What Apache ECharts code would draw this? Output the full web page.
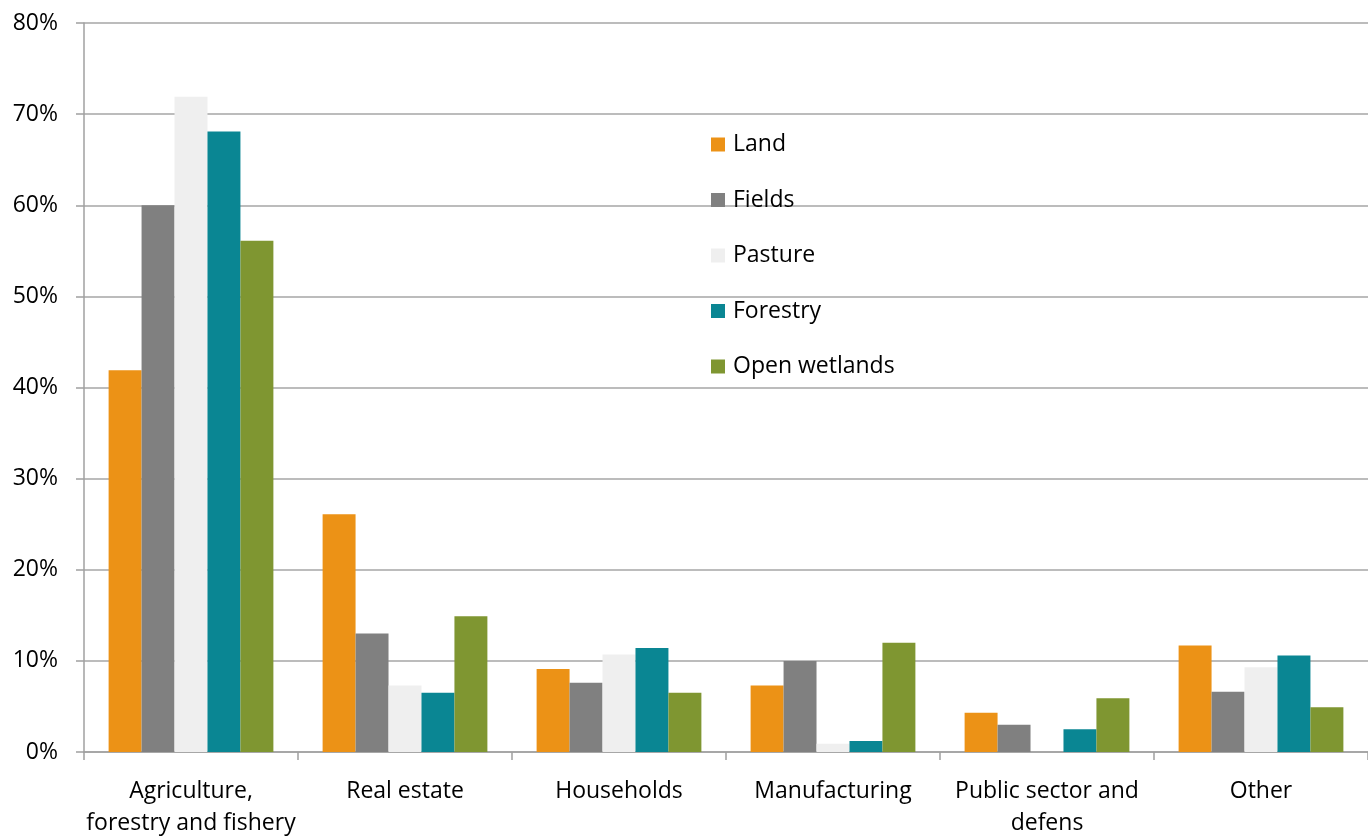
<!DOCTYPE html>
<html>
<head>
<meta charset="utf-8">
<script src="https://cdn.jsdelivr.net/npm/echarts@6/dist/echarts.min.js"></script>
<style>
html,body{margin:0;padding:0;background:#fff;}
#chart{width:1368px;height:839px;}
</style>
</head>
<body>
<div id="chart"></div>
<script>
var categories = ['Agriculture,\nforestry and fishery','Real estate','Households','Manufacturing','Public sector and\ndefens','Other'];
var seriesNames = ['Land','Fields','Pasture','Forestry','Open wetlands'];
var land     = [41.9, 26.1, 9.1, 7.3, 4.3, 11.7];
var fields   = [60.0, 13.0, 7.6, 10.0, 3.0, 6.6];
var pasture  = [71.9, 7.3, 10.7, 0.9, 0, 9.3];
var forestry = [68.1, 6.5, 11.4, 1.2, 2.5, 10.6];
var wetlands = [56.1, 14.9, 6.5, 12.0, 5.9, 4.9];
var yTicks   = [0, 10, 20, 30, 40, 50, 60, 70, 80];

var colors = ['#ec9216','#808080','#efefef','#0a8693','#7f9631'];
var values = [land, fields, pasture, forestry, wetlands];

var series = [];
for (var i = 0; i < seriesNames.length; i++) {
    series.push({
        name: seriesNames[i],
        type: 'bar',
        barGap: '0%',
        barCategoryGap: '23%',
        data: values[i]
    });
}

var option = {
    animation: false,
    color: colors,
    textStyle: {
        fontFamily: 'Open Sans, Noto Sans, sans-serif'
    },
    grid: {
        left: 84,
        top: 23,
        width: 1292,
        height: 737,
        containLabel: false
    },
    legend: {
        orient: 'vertical',
        left: 706,
        top: 128,
        itemWidth: 14,
        itemHeight: 14,
        itemGap: 32.5,
        icon: 'rect',
        textStyle: {
            color: '#000',
            fontSize: 23,
            padding: [0, 0, 0, 3]
        },
        data: seriesNames
    },
    xAxis: {
        type: 'category',
        data: categories,
        axisLine: {
            lineStyle: { color: '#a0a0a0', width: 1.5 }
        },
        axisTick: {
            show: true,
            length: 8,
            lineStyle: { color: '#a0a0a0', width: 1.5 }
        },
        axisLabel: {
            color: '#000',
            fontSize: 23,
            margin: 23,
            lineHeight: 32,
            interval: 0
        }
    },
    yAxis: {
        type: 'value',
        min: yTicks[0],
        max: yTicks[yTicks.length - 1],
        interval: 10,
        axisLine: {
            show: true,
            lineStyle: { color: '#a0a0a0', width: 1.5 }
        },
        axisTick: {
            show: true,
            inside: false,
            length: 8,
            lineStyle: { color: '#a0a0a0', width: 1.5 }
        },
        axisLabel: {
            color: '#000',
            fontSize: 23,
            margin: 26,
            formatter: '{value}%'
        },
        splitLine: {
            show: true,
            lineStyle: { color: '#a6a6a6', width: 1.5 }
        }
    },
    series: series
};

var myChart = echarts.init(document.getElementById('chart'));
myChart.setOption(option, true);
</script>
</body>
</html>
